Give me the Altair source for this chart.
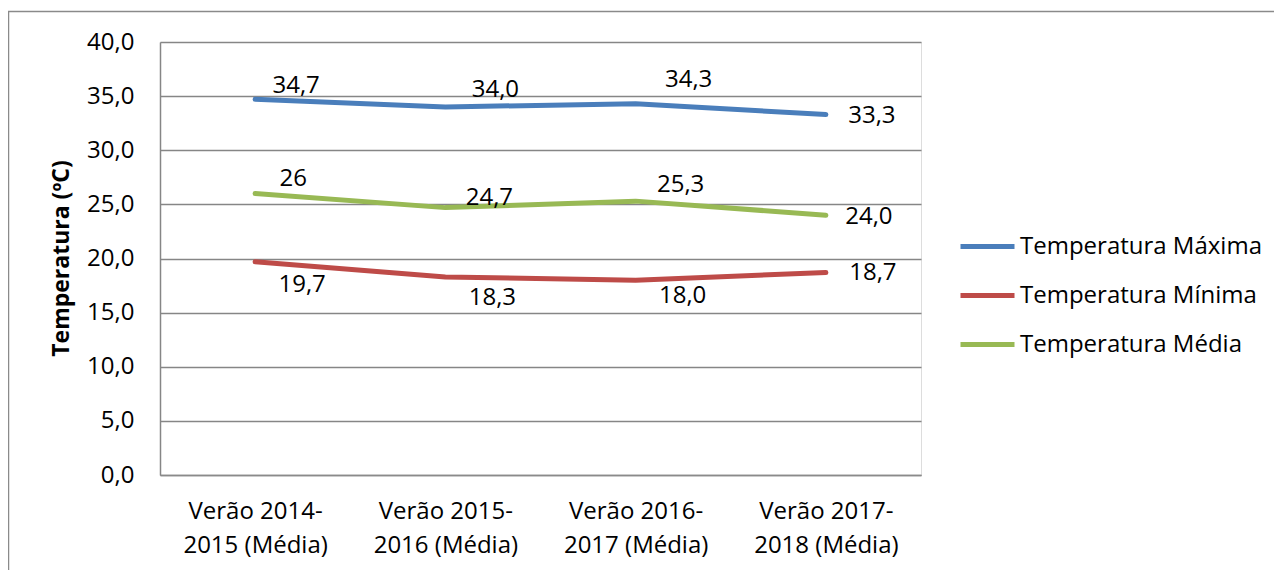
import altair as alt
import pandas as pd

categories = ["Verão 2014-2015 (Média)", "Verão 2015-2016 (Média)",
              "Verão 2016-2017 (Média)", "Verão 2017-2018 (Média)"]
series_names = ["Temperatura Máxima", "Temperatura Mínima", "Temperatura Média"]
series_colors = ["#4A7EBB", "#BE4B48", "#98B954"]

t_max = [34.7, 34.0, 34.3, 33.3]
t_min = [19.7, 18.3, 18.0, 18.7]
t_med = [26.0, 24.7, 25.3, 24.0]

label_max = ["34,7", "34,0", "34,3", "33,3"]
label_min = ["19,7", "18,3", "18,0", "18,7"]
label_med = ["26", "24,7", "25,3", "24,0"]

# label offsets (pixels) relative to each point
dx_max = [41, 50, 53, 46]
dy_max = [-13, -17, -24, 1]
dx_min = [47, 47, 47, 47]
dy_min = [23, 21, 16, 0]
dx_med = [38, 44, 45, 43]
dy_med = [-15, -10, -16, 2]

rows = []
offsets = []
for name, vals, labs, dxs, dys in [
    (series_names[0], t_max, label_max, dx_max, dy_max),
    (series_names[1], t_min, label_min, dx_min, dy_min),
    (series_names[2], t_med, label_med, dx_med, dy_med),
]:
    for c, v, l, dx, dy in zip(categories, vals, labs, dxs, dys):
        rows.append({"cat": c, "serie": name, "valor": v, "rotulo": l})
        offsets.append((name, c, dx, dy))
df = pd.DataFrame(rows)

FONT = "Open Sans"
FS = 24

x_enc = alt.X("cat:N", sort=categories, title=None,
              axis=alt.Axis(labelAngle=0, labelFont=FONT, labelFontSize=FS,
                            labelColor="#000000", labelLineHeight=34,
                            labelPadding=24, ticks=False, grid=False,
                            domainColor="#8a8a8a", domainWidth=1.5,
                            labelExpr="[substring(datum.label, 0, 11), substring(datum.label, 11)]"))
y_enc = alt.Y("valor:Q", scale=alt.Scale(domain=[0, 40], nice=False, zero=True),
              title="Temperatura (ºC)",
              axis=alt.Axis(values=[0, 5, 10, 15, 20, 25, 30, 35, 40],
                            labelExpr="replace(format(datum.value, '.1f'), '.', ',')",
                            labelFont=FONT, labelFontSize=FS, labelColor="#000000",
                            labelPadding=26, ticks=False,
                            grid=True, gridColor="#868686", gridWidth=1.5,
                            domainColor="#868686", domainWidth=1.5,
                            titleFont=FONT, titleFontSize=23, titleFontWeight="bold",
                            titleColor="#000000", titleX=-99, titleY=216,
                            titleAngle=270, titleAlign="center", titleBaseline="middle"))

color_enc = alt.Color("serie:N", sort=series_names,
                      scale=alt.Scale(domain=series_names, range=series_colors),
                      legend=alt.Legend(title=None, orient="none", legendX=798, legendY=175,
                                        symbolType="stroke", symbolSize=2916,
                                        symbolStrokeWidth=5, labelFont=FONT,
                                        labelFontSize=FS, labelColor="#000000",
                                        labelLimit=0, labelOffset=3, rowPadding=7,
                                        padding=0))

base = alt.Chart(df)

lines = base.mark_line(strokeWidth=5, strokeCap="round", strokeJoin="round").encode(
    x=x_enc, y=y_enc, color=color_enc, detail="serie:N")

label_layers = []
for name, c, dx, dy in offsets:
    label_layers.append(
        base.transform_filter(
            (alt.datum.serie == name) & (alt.datum.cat == c)
        ).mark_text(font=FONT, fontSize=FS, color="#000000", align="center",
                    baseline="middle", dx=dx, dy=dy).encode(
            x=alt.X("cat:N", sort=categories),
            y=alt.Y("valor:Q"),
            text="rotulo:N",
        )
    )

frame_v = alt.Chart(alt.Data(values=[{}])).mark_rule(color="#8a8a8a", strokeWidth=1.5).encode(
    x=alt.value(-151.5), y=alt.value(-31), y2=alt.value(600))
frame_h = alt.Chart(alt.Data(values=[{}])).mark_rule(color="#8a8a8a", strokeWidth=1.5).encode(
    x=alt.value(-152), x2=alt.value(1300), y=alt.value(-30.5))

chart = alt.layer(frame_v, frame_h, lines, *label_layers).properties(
    width=761, height=433,
    padding={"left": 152, "top": 34, "right": 353, "bottom": 95},
    autosize=alt.AutoSizeParams(type="none"),
).configure_view(stroke=None).configure(font=FONT)

chart.save("out.html", embed_options={"renderer": "svg", "actions": False})
